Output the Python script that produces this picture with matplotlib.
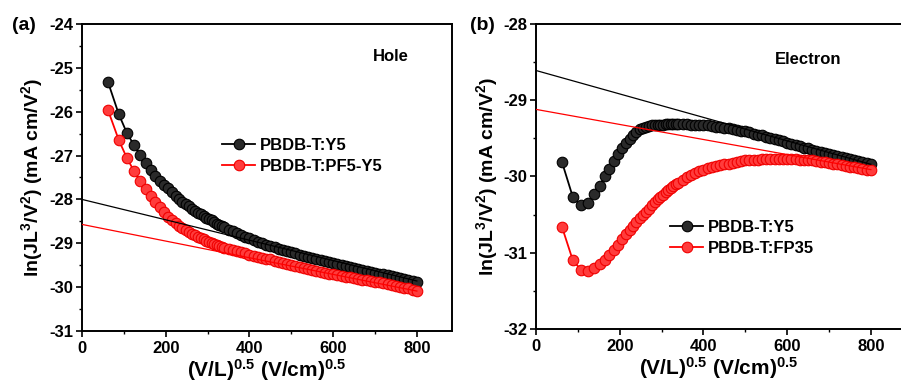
import matplotlib
matplotlib.use('Agg')
import matplotlib.pyplot as plt

plt.rcParams['font.family'] = ['Liberation Sans', 'DejaVu Sans']
plt.rcParams['font.weight'] = 'bold'
plt.rcParams['mathtext.fontset'] = 'custom'
plt.rcParams['mathtext.rm'] = 'Liberation Sans:bold'
plt.rcParams['mathtext.it'] = 'Liberation Sans:bold'
plt.rcParams['mathtext.bf'] = 'Liberation Sans:bold'
plt.rcParams['mathtext.default'] = 'rm'

# (V/L)^0.5 values shared by all four curves
field = [62, 88, 107, 124, 139, 152, 164, 175, 186, 196, 206, 215, 224, 232, 240,
         248, 256, 263, 270, 277, 284, 291, 297, 304, 310, 316, 322, 328, 334, 340,
         350, 360, 370, 380, 390, 400, 410, 420, 430, 440, 450, 460, 470, 480, 490,
         500, 510, 520, 530, 540, 550, 560, 570, 580, 590, 600, 610, 620, 630, 640,
         650, 660, 670, 680, 690, 700, 710, 720, 730, 740, 750, 760, 770, 780, 790, 800]

# (a) hole only devices
hole_y5 = [-25.32, -26.06, -26.48, -26.76, -26.99, -27.18, -27.33, -27.46, -27.57, -27.66,
           -27.75, -27.83, -27.92, -27.99, -28.05, -28.10, -28.16, -28.21, -28.26, -28.30,
           -28.34, -28.38, -28.42, -28.45, -28.48, -28.51, -28.55, -28.58, -28.61, -28.64,
           -28.69, -28.73, -28.77, -28.81, -28.85, -28.89, -28.93, -28.96, -29.00, -29.03,
           -29.06, -29.09, -29.12, -29.15, -29.18, -29.21, -29.23, -29.26, -29.28, -29.31,
           -29.33, -29.36, -29.38, -29.40, -29.43, -29.45, -29.47, -29.49, -29.52, -29.54,
           -29.56, -29.59, -29.61, -29.63, -29.65, -29.67, -29.69, -29.71, -29.73, -29.75,
           -29.77, -29.79, -29.81, -29.83, -29.85, -29.88]
hole_pf5 = [-25.96, -26.65, -27.05, -27.35, -27.58, -27.76, -27.92, -28.05, -28.17, -28.28,
            -28.39, -28.47, -28.54, -28.60, -28.65, -28.69, -28.74, -28.78, -28.82, -28.85,
            -28.88, -28.91, -28.94, -28.97, -29.00, -29.02, -29.04, -29.06, -29.08, -29.10,
            -29.13, -29.15, -29.18, -29.20, -29.23, -29.26, -29.28, -29.31, -29.33, -29.35,
            -29.37, -29.40, -29.42, -29.44, -29.47, -29.49, -29.51, -29.54, -29.56, -29.58,
            -29.61, -29.63, -29.65, -29.67, -29.69, -29.71, -29.72, -29.74, -29.76, -29.78,
            -29.79, -29.81, -29.83, -29.84, -29.86, -29.88, -29.89, -29.91, -29.93, -29.95,
            -29.97, -29.99, -30.01, -30.03, -30.06, -30.09]

# (b) electron only devices
elec_y5 = [-29.81, -30.27, -30.38, -30.35, -30.23, -30.12, -30.00, -29.90, -29.80, -29.71,
           -29.63, -29.56, -29.51, -29.46, -29.42, -29.38, -29.36, -29.35, -29.34, -29.33,
           -29.33, -29.32, -29.32, -29.32, -29.31, -29.31, -29.31, -29.31, -29.31, -29.31,
           -29.31, -29.31, -29.32, -29.32, -29.32, -29.33, -29.33, -29.34, -29.35, -29.35,
           -29.36, -29.37, -29.38, -29.39, -29.40, -29.41, -29.42, -29.44, -29.45, -29.46,
           -29.48, -29.49, -29.51, -29.52, -29.54, -29.56, -29.57, -29.59, -29.60, -29.62,
           -29.63, -29.65, -29.66, -29.68, -29.69, -29.71, -29.72, -29.73, -29.75, -29.76,
           -29.77, -29.79, -29.80, -29.81, -29.82, -29.84]
elec_fp35 = [-30.66, -31.10, -31.22, -31.24, -31.20, -31.15, -31.09, -31.03, -30.97, -30.90,
             -30.82, -30.76, -30.70, -30.65, -30.60, -30.55, -30.50, -30.46, -30.42, -30.38,
             -30.34, -30.30, -30.27, -30.24, -30.21, -30.18, -30.15, -30.12, -30.10, -30.08,
             -30.04, -30.01, -29.98, -29.95, -29.93, -29.91, -29.89, -29.87, -29.86, -29.85,
             -29.84, -29.83, -29.82, -29.81, -29.80, -29.79, -29.79, -29.78, -29.78, -29.77,
             -29.77, -29.77, -29.77, -29.77, -29.77, -29.77, -29.77, -29.77, -29.78, -29.78,
             -29.79, -29.79, -29.80, -29.81, -29.81, -29.82, -29.83, -29.84, -29.85, -29.86,
             -29.87, -29.88, -29.89, -29.90, -29.91, -29.92]

# linear fits (end points)
fit_x = [0, 800]
hole_fit_y5 = [-28.00, -29.86]
hole_fit_pf5 = [-28.57, -30.09]
elec_fit_y5 = [-28.61, -29.84]
elec_fit_fp35 = [-29.12, -29.91]

fig = plt.figure(figsize=(9.01, 3.85), dpi=100)
ax1 = fig.add_axes([0.0910, 0.1403, 0.4107, 0.7974])
ax2 = fig.add_axes([0.5949, 0.1455, 0.4051, 0.7922])

black_style = dict(color='black', marker='o', ms=7.6, mfc='#2a2a2a', mec='black', mew=0.8, lw=1.3)
red_style = dict(color='red', marker='o', ms=7.6, mfc='#ff3c3c', mec='#f00000', mew=0.8, lw=1.3)


def style_axes(ax, ylim, yticks, xmax):
    ax.set_xlim(0, xmax)
    ax.set_ylim(*ylim)
    ax.set_xticks([0, 200, 400, 600, 800])
    ax.set_xticks([100, 300, 500, 700], minor=True)
    ax.set_yticks(yticks)
    ax.set_yticks([v + 0.5 for v in yticks[:-1]], minor=True)
    ax.set_yticklabels([str(v) for v in yticks])
    for s in ax.spines.values():
        s.set_linewidth(1.4)
    ax.tick_params(which='major', direction='out', length=4, width=1.2, labelsize=12, pad=2)
    ax.tick_params(which='minor', direction='out', length=2.5, width=1.0)
    ax.tick_params(axis='x', which='major', pad=3)
    ax.set_xlabel('(V/L)$^{0.5}$ (V/cm)$^{0.5}$', fontsize=15, fontweight='bold', labelpad=1)
    ax.set_ylabel('ln(JL$^3$/V$^2$) (mA cm/V$^2$)', fontsize=14, fontweight='bold', labelpad=3)


# (a)
ax1.plot(field, hole_y5, label='PBDB-T:Y5', **black_style)
ax1.plot(field, hole_pf5, label='PBDB-T:PF5-Y5', **red_style)
ax1.plot(fit_x, hole_fit_y5, color='black', lw=0.9, zorder=3)
ax1.plot(fit_x, hole_fit_pf5, color='red', lw=0.9, zorder=3)
style_axes(ax1, (-31, -24), [-31, -30, -29, -28, -27, -26, -25, -24], 884)
ax1.text(0.785, 0.895, 'Hole', transform=ax1.transAxes, fontsize=12, fontweight='bold',
         ha='left', va='center')
ax1.legend(loc='upper left', bbox_to_anchor=(222 / 901, 1 - 138 / 385),
           bbox_transform=fig.transFigure, frameon=False, fontsize=12, numpoints=1,
           handlelength=2.0, handletextpad=0.3, borderpad=0, borderaxespad=0,
           labelspacing=0.35)
fig.text(12 / 901, 1 - 25 / 385, '(a)', fontsize=14, fontweight='bold', va='center')

# (b)
ax2.plot(field, elec_y5, label='PBDB-T:Y5', **black_style)
ax2.plot(field, elec_fp35, label='PBDB-T:FP35', **red_style)
ax2.plot(fit_x, elec_fit_y5, color='black', lw=0.9, zorder=3)
ax2.plot(fit_x, elec_fit_fp35, color='red', lw=0.9, zorder=3)
style_axes(ax2, (-32, -28), [-32, -31, -30, -29, -28], 872)
ax2.spines['right'].set_visible(False)
ax2.text(775 / 901, 1 - 60 / 385, 'Electron', transform=fig.transFigure, fontsize=12,
         fontweight='bold', ha='left', va='center')
ax2.legend(loc='upper left', bbox_to_anchor=(670 / 901, 1 - 220 / 385),
           bbox_transform=fig.transFigure, frameon=False, fontsize=12, numpoints=1,
           handlelength=2.0, handletextpad=0.3, borderpad=0, borderaxespad=0,
           labelspacing=0.35)
fig.text(470 / 901, 1 - 25 / 385, '(b)', fontsize=14, fontweight='bold', va='center')

fig.savefig('out.png', dpi=100)
